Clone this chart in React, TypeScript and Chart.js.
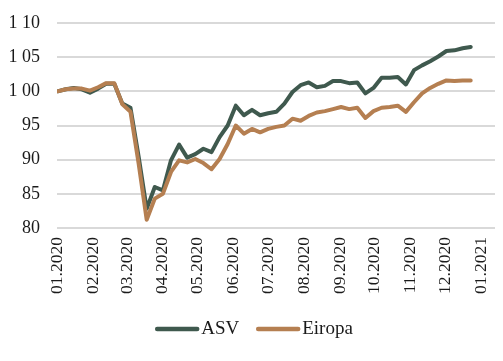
import React, { useEffect, useRef } from "react";
import { Chart, registerables } from "chart.js";

Chart.register(...registerables);

// Weekly observation dates
const dates = [
  "2020-01-01", "2020-01-08", "2020-01-15", "2020-01-22", "2020-01-29",
  "2020-02-05", "2020-02-12", "2020-02-19", "2020-02-26",
  "2020-03-04", "2020-03-11", "2020-03-18", "2020-03-25",
  "2020-04-01", "2020-04-08", "2020-04-15", "2020-04-22", "2020-04-29",
  "2020-05-06", "2020-05-13", "2020-05-20", "2020-05-27",
  "2020-06-03", "2020-06-10", "2020-06-17", "2020-06-24",
  "2020-07-01", "2020-07-08", "2020-07-15", "2020-07-22", "2020-07-29",
  "2020-08-05", "2020-08-12", "2020-08-19", "2020-08-26",
  "2020-09-02", "2020-09-09", "2020-09-16", "2020-09-23", "2020-09-30",
  "2020-10-07", "2020-10-14", "2020-10-21", "2020-10-28",
  "2020-11-04", "2020-11-11", "2020-11-18", "2020-11-25",
  "2020-12-02", "2020-12-09", "2020-12-16", "2020-12-23",
];

const asv = [
  100, 100.3, 100.5, 100.3, 99.8, 100.4, 101.1, 101.1, 98.2, 97.6,
  90.5, 82.8, 86.0, 85.5, 89.9, 92.2, 90.3, 90.8, 91.6, 91.1,
  93.3, 95.0, 97.9, 96.5, 97.3, 96.5, 96.8, 97.0, 98.2, 99.9,
  100.9, 101.3, 100.6, 100.8, 101.5, 101.5, 101.2, 101.3, 99.7, 100.5,
  102.0, 102.0, 102.1, 101.0, 103.1, 103.8, 104.4, 105.1, 105.9, 106.0,
  106.3, 106.5,
];

const eiropa = [
  100, 100.3, 100.4, 100.4, 100.1, 100.6, 101.2, 101.2, 98.1, 97.0,
  89.5, 81.2, 84.3, 85.0, 88.2, 89.9, 89.6, 90.1, 89.5, 88.6,
  90.1, 92.3, 95.0, 93.8, 94.5, 94.0, 94.5, 94.8, 95.0, 96.0,
  95.7, 96.4, 96.9, 97.1, 97.4, 97.7, 97.4, 97.6, 96.1, 97.1,
  97.6, 97.7, 97.9, 97.0, 98.4, 99.7, 100.5, 101.1, 101.6, 101.5,
  101.6, 101.6,
];

const monthTickDates = [
  "2020-01-01", "2020-02-01", "2020-03-01", "2020-04-01", "2020-05-01",
  "2020-06-01", "2020-07-01", "2020-08-01", "2020-09-01", "2020-10-01",
  "2020-11-01", "2020-12-01", "2021-01-01",
];
const monthTickLabels = [
  "01.2020", "02.2020", "03.2020", "04.2020", "05.2020", "06.2020",
  "07.2020", "08.2020", "09.2020", "10.2020", "11.2020", "12.2020", "01.2021",
];

const yTickValues = [80, 85, 90, 95, 100, 105, 110];
const yTickLabels = ["80", "85", "90", "95", "1 00", "1 05", "1 10"];

const seriesNames = ["ASV", "Eiropa"];
const seriesColors = ["#3f594e", "#b57f51"];

const DAY = 86400000;
const origin = Date.parse("2020-01-01T00:00:00Z");
const toDay = (s: string) => (Date.parse(s + "T00:00:00Z") - origin) / DAY;

const FONT = "'Liberation Serif', 'DejaVu Serif', serif";

// Legend drawn beneath the axis: line swatch, short gap, label
const bottomLegend = {
  id: "bottomLegend",
  afterDraw(chart: any) {
    const ctx = chart.ctx;
    const sets = chart.data.datasets;
    const boxW = 44;
    const gap = 2;
    const itemGap = 17;
    ctx.save();
    ctx.font = `19px ${FONT}`;
    const widths = sets.map((d: any) => ctx.measureText(d.label).width);
    let total = 0;
    sets.forEach((_d: any, i: number) => {
      total += boxW + gap + widths[i];
      if (i < sets.length - 1) total += itemGap;
    });
    const cy = 329;
    let x = 254 - total / 2;
    sets.forEach((d: any, i: number) => {
      ctx.strokeStyle = d.borderColor;
      ctx.lineWidth = 4.5;
      ctx.lineCap = "round";
      ctx.beginPath();
      ctx.moveTo(x + 2, cy);
      ctx.lineTo(x + boxW - 2, cy);
      ctx.stroke();
      x += boxW + gap;
      ctx.fillStyle = "#1a1a1a";
      ctx.textBaseline = "middle";
      ctx.textAlign = "left";
      ctx.fillText(d.label, x, cy);
      x += widths[i] + itemGap;
    });
    ctx.restore();
  },
};

export default function App() {
  const ref = useRef<HTMLCanvasElement | null>(null);

  useEffect(() => {
    document.body.style.margin = "0";
    if (!ref.current) return;
    const xs = dates.map(toDay);
    const tickDays = monthTickDates.map(toDay);
    const chart = new Chart(ref.current, {
      type: "line",
      data: {
        datasets: [
          {
            label: seriesNames[0],
            data: asv.map((v, i) => ({ x: xs[i], y: v })),
            borderColor: seriesColors[0],
            backgroundColor: seriesColors[0],
            borderWidth: 4,
            pointRadius: 0,
            borderCapStyle: "round",
            borderJoinStyle: "round",
            tension: 0,
            order: 2,
          },
          {
            label: seriesNames[1],
            data: eiropa.map((v, i) => ({ x: xs[i], y: v })),
            borderColor: seriesColors[1],
            backgroundColor: seriesColors[1],
            borderWidth: 4,
            pointRadius: 0,
            borderCapStyle: "round",
            borderJoinStyle: "round",
            tension: 0,
            order: 1,
          },
        ],
      },
      options: {
        responsive: false,
        animation: false,
        layout: { padding: { top: 23, right: 8, left: 0, bottom: 53 } },
        plugins: {
          tooltip: { enabled: false },
          legend: { display: false },
        },
        scales: {
          x: {
            type: "linear",
            min: -0.5,
            max: 378,
            grid: { display: false, drawTicks: false },
            border: { display: false },
            afterBuildTicks: (s: any) => {
              s.ticks = tickDays.map((v) => ({ value: v }));
            },
            afterFit: (s: any) => {
              s.height = 80;
              s.paddingLeft = 0;
              s.paddingRight = 0;
            },
            ticks: {
              autoSkip: false,
              maxRotation: 90,
              minRotation: 90,
              padding: 9,
              color: "#1a1a1a",
              font: { family: FONT, size: 17.5 },
              callback: (_v: any, i: number) => monthTickLabels[i],
            },
          },
          y: {
            min: 80,
            max: 110,
            grid: { color: "#d9d9d9", lineWidth: 2, drawTicks: false },
            border: { display: false },
            afterBuildTicks: (s: any) => {
              s.ticks = yTickValues.map((v) => ({ value: v }));
            },
            afterFit: (s: any) => {
              s.width = 57;
              s.paddingTop = 0;
              s.paddingBottom = 0;
            },
            ticks: {
              padding: 17,
              color: "#1a1a1a",
              font: { family: FONT, size: 18 },
              callback: (_v: any, i: number) => yTickLabels[i],
            },
          },
        },
      },
      plugins: [bottomLegend],
    });
    return () => chart.destroy();
  }, []);

  return (
    <div style={{ width: 503, height: 361 }}>
      <canvas ref={ref} width={503} height={361} style={{ display: "block" }} />
    </div>
  );
}
